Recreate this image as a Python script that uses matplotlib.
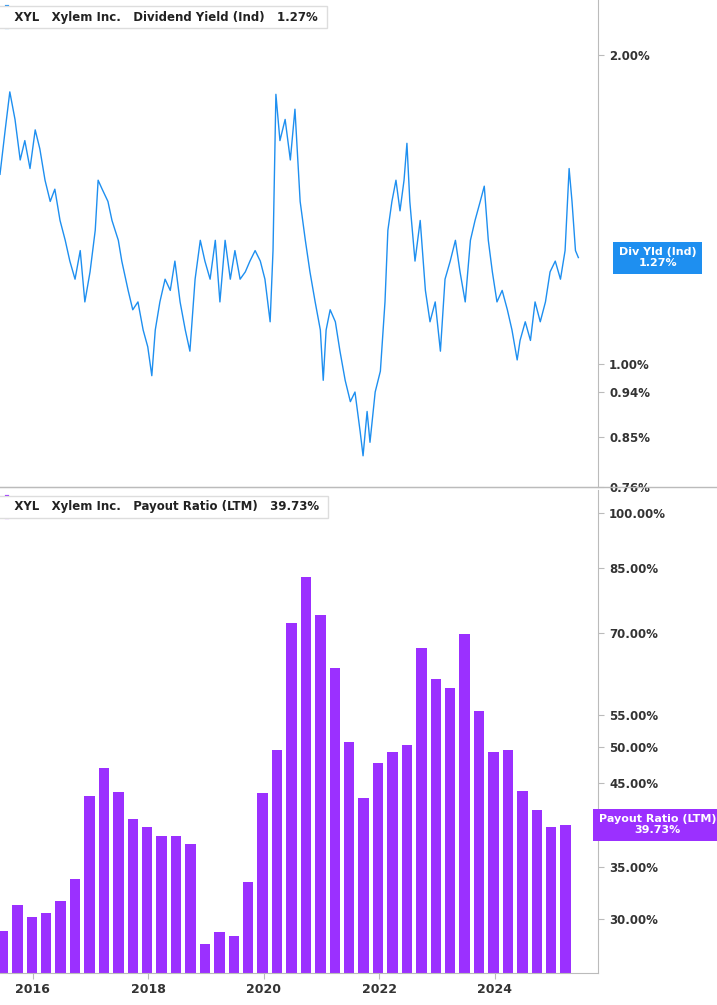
import numpy as np
import matplotlib
matplotlib.use("Agg")
from matplotlib import pyplot as plt
from matplotlib.ticker import FixedLocator, NullLocator

# dividend yield (%), dates as decimal years
yld_dates = [15.43, 15.52, 15.60, 15.69, 15.78, 15.86, 15.95, 16.04, 16.12, 16.21, 16.30, 16.38, 16.47, 16.56,
             16.64, 16.73, 16.82, 16.90, 16.99, 17.08, 17.13, 17.20, 17.30, 17.37, 17.48, 17.54, 17.65, 17.73,
             17.82, 17.91, 17.99, 18.06, 18.12, 18.20, 18.29, 18.38, 18.46, 18.55, 18.64, 18.72, 18.81, 18.90,
             18.98, 19.07, 19.16, 19.24, 19.33, 19.42, 19.50, 19.59, 19.68, 19.76, 19.85, 19.94, 20.02, 20.11,
             20.16, 20.21, 20.28, 20.37, 20.46, 20.54, 20.63, 20.72, 20.80, 20.89, 20.98, 21.03, 21.08, 21.15,
             21.24, 21.32, 21.41, 21.50, 21.58, 21.67, 21.72, 21.79, 21.84, 21.93, 22.02, 22.10, 22.15, 22.22,
             22.29, 22.36, 22.43, 22.48, 22.53, 22.62, 22.71, 22.80, 22.88, 22.97, 23.06, 23.14, 23.23, 23.32,
             23.40, 23.49, 23.58, 23.66, 23.75, 23.82, 23.89, 23.96, 24.04, 24.13, 24.22, 24.30, 24.39, 24.44,
             24.53, 24.62, 24.70, 24.79, 24.88, 24.96, 25.05, 25.14, 25.22, 25.29, 25.34, 25.40, 25.45]
yld = [1.53, 1.69, 1.84, 1.73, 1.58, 1.65, 1.55, 1.69, 1.62, 1.51, 1.44, 1.48, 1.38, 1.32,
       1.26, 1.21, 1.29, 1.15, 1.23, 1.35, 1.51, 1.48, 1.44, 1.38, 1.32, 1.26, 1.18, 1.13,
       1.15, 1.08, 1.04, 0.975, 1.08, 1.15, 1.21, 1.18, 1.26, 1.15, 1.08, 1.03, 1.21, 1.32,
       1.26, 1.21, 1.32, 1.15, 1.32, 1.21, 1.29, 1.21, 1.23, 1.26, 1.29, 1.26, 1.21, 1.10,
       1.29, 1.83, 1.65, 1.73, 1.58, 1.77, 1.44, 1.32, 1.23, 1.15, 1.08, 0.965, 1.08, 1.13,
       1.10, 1.03, 0.965, 0.92, 0.94, 0.86, 0.815, 0.90, 0.84, 0.94, 0.985, 1.15, 1.35, 1.44,
       1.51, 1.41, 1.51, 1.64, 1.44, 1.26, 1.38, 1.18, 1.10, 1.15, 1.03, 1.21, 1.26, 1.32,
       1.23, 1.15, 1.32, 1.38, 1.44, 1.49, 1.32, 1.23, 1.15, 1.18, 1.13, 1.08, 1.01, 1.055,
       1.10, 1.055, 1.15, 1.10, 1.15, 1.23, 1.26, 1.21, 1.29, 1.55, 1.44, 1.29, 1.27]

# payout ratio (%), quarterly from mid 2015
payout = [29.0, 31.3, 30.2, 30.6, 31.7, 33.8, 43.3, 47.0, 43.8, 40.4,
          39.5, 38.4, 38.4, 37.5, 27.9, 28.9, 28.6, 33.5, 43.6, 49.6,
          72.2, 82.7, 74.0, 63.2, 50.8, 43.0, 47.7, 49.3, 50.3, 67.1,
          61.2, 59.6, 69.9, 55.7, 49.3, 49.6, 43.9, 41.5, 39.5, 39.73]
payout_dates = [2015.48 + 0.25 * i for i in range(len(payout))]

yld_ticks = [2.00, 1.00, 0.94, 0.85, 0.76]
pay_ticks = [100, 85, 70, 55, 50, 45, 35, 30]
year_ticks = [2016, 2018, 2020, 2022, 2024]

BLUE = "#1e8ff0"
PURPLE = "#9b30ff"
GRID = "#bbbbbb"

fig = plt.figure(figsize=(7.17, 10.05), dpi=100)
ax1 = fig.add_axes([0, 0.5154, 0.834, 0.4846])
ax2 = fig.add_axes([0, 0.0318, 0.834, 0.4806])

xmin, xmax = 2015.43, 2025.79

ax1.plot([2000 + d for d in yld_dates], yld, color=BLUE, lw=1.0)
ax1.set_yscale("log")
ax1.set_ylim(0.76, 2.26)
ax1.set_xlim(xmin, xmax)
ax1.yaxis.set_major_locator(FixedLocator(yld_ticks))
ax1.yaxis.set_minor_locator(NullLocator())
ax1.set_yticklabels([f"{t:.2f}%" for t in yld_ticks])
ax1.set_xticks([])

ax2.bar(payout_dates, payout, width=0.18, color=PURPLE, bottom=0)
ax2.set_yscale("log")
ax2.set_ylim(25.6, 107)
ax2.set_xlim(xmin, xmax)
ax2.yaxis.set_major_locator(FixedLocator(pay_ticks))
ax2.yaxis.set_minor_locator(NullLocator())
ax2.set_yticklabels([f"{t:.2f}%" for t in pay_ticks])
ax2.set_xticks(year_ticks)
ax2.set_xticklabels([str(y) for y in year_ticks])

for ax in (ax1, ax2):
    ax.yaxis.tick_right()
    ax.tick_params(axis="y", length=4, color=GRID, labelsize=8.5, labelcolor="#333333", pad=4)
    ax.tick_params(axis="x", length=4, color=GRID, labelsize=9, labelcolor="#333333")
    for s in ("top", "left"):
        ax.spines[s].set_visible(False)
    ax.spines["right"].set_color(GRID)
    ax.spines["bottom"].set_color(GRID)
    for lbl in ax.get_yticklabels() + ax.get_xticklabels():
        lbl.set_fontweight("bold")

# separator between panels
fig.add_artist(plt.Line2D([0, 1], [0.5154, 0.5154], color=GRID, lw=1, transform=fig.transFigure))

# legends
def legend(ax, y, color, title, value):
    ax.text(0.004, y, "   XYL   Xylem Inc.   " + title + "   " + value + " ", transform=ax.transAxes,
            fontsize=8.5, fontweight="bold", color="#222222", va="center", ha="left",
            bbox=dict(boxstyle="square,pad=0.4", fc="white", ec="#dddddd"))
    ax.plot([0.012, 0.012], [y - 0.02, y + 0.02], color=color, lw=3, transform=ax.transAxes, clip_on=False)

legend(ax1, 0.965, BLUE, "Dividend Yield (Ind)", "1.27%")
legend(ax2, 0.965, PURPLE, "Payout Ratio (LTM)", "39.73%")

# last value tags
ax1.text(1.10, 1.27, "Div Yld (Ind)\n1.27%", transform=ax1.get_yaxis_transform(), ha="center", va="center",
         fontsize=8, fontweight="bold", color="white", linespacing=1.1, clip_on=False,
         bbox=dict(boxstyle="square,pad=0.5", fc=BLUE, ec="none"))
ax2.text(1.10, 39.73, "Payout Ratio (LTM)\n39.73%", transform=ax2.get_yaxis_transform(), ha="center", va="center",
         fontsize=8, fontweight="bold", color="white", linespacing=1.1, clip_on=False,
         bbox=dict(boxstyle="square,pad=0.5", fc=PURPLE, ec="none"))

fig.savefig("out.png", dpi=100)
